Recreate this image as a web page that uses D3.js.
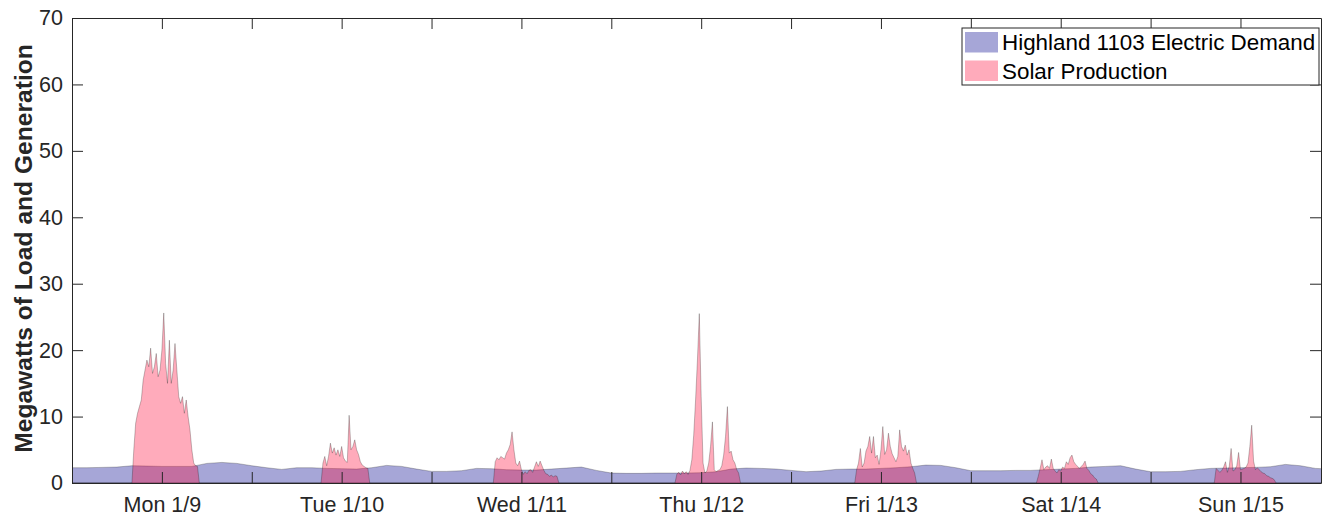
<!DOCTYPE html>
<html>
<head>
<meta charset="utf-8">
<script src="https://cdnjs.cloudflare.com/ajax/libs/d3/7.8.5/d3.min.js"></script>
<style>
    body { margin: 0; background: #fff; }
    svg { display: block; font-family: "Liberation Sans", Arial, sans-serif; }
    .axis-label { fill: #262626; font-size: 24.6px; font-weight: bold; }
    .demand-area { fill: rgb(0,0,139); fill-opacity: 0.35; stroke: #000; stroke-opacity: 0.3; stroke-width: 0.8; }
    .solar-area { fill: rgb(255,0,50); fill-opacity: 0.33; stroke: #000; stroke-opacity: 0.3; stroke-width: 0.8; }
    .legend-swatch { stroke: none; }
    .legend-box { fill: #fff; stroke: #262626; stroke-width: 1; }
    .legend-text { fill: #000; font-size: 22.4px; }
</style>
</head>
<body>
<div id="chart"></div>
<script>
// x tick labels (at noon of each day)
var dayLabels = ["Mon 1/9", "Tue 1/10", "Wed 1/11", "Thu 1/12", "Fri 1/13", "Sat 1/14", "Sun 1/15"]
var yTicks = [0, 10, 20, 30, 40, 50, 60, 70]
var seriesNames = ["Highland 1103 Electric Demand", "Solar Production"]

// demand, MW, every 2 hours from Mon 1/9 00:00
var demandMW = [
    2.3, 2.3, 2.35, 2.4, 2.6, 2.55, 2.5, 2.5, 2.5, 2.95, 3.1, 2.95,
    2.6, 2.3, 2.05, 2.3, 2.3, 2.2, 2.15, 2.1, 2.3, 2.65, 2.5, 2.1,
    1.75, 1.75, 1.85, 2.2, 2.15, 2.0, 1.95, 1.95, 2.1, 2.25, 2.4, 1.9,
    1.5, 1.45, 1.45, 1.5, 1.5, 1.5, 1.55, 1.7, 2.1, 2.25, 2.2, 2.1,
    1.9, 1.7, 1.8, 2.05, 2.1, 2.1, 2.2, 2.3, 2.45, 2.7, 2.65, 2.3,
    1.85, 1.85, 1.85, 1.9, 1.9, 2.0, 2.1, 2.2, 2.4, 2.5, 2.6, 2.1,
    1.7, 1.7, 1.75, 2.0, 2.2, 2.25, 2.3, 2.35, 2.45, 2.8, 2.6, 2.2,
    2.1
]

// solar, MW, every 15 minutes from the start hour of each day
var solarStartHour = [8.0, 9.25, 8.25, 8.5, 8.5, 8.75, 8.5]
var solarMon = [0, 5, 9, 10.5, 11.5, 12.5, 15.5, 17, 18.5, 17.5, 20.3, 16.5, 17.5, 19.5, 16, 17, 20, 25.6, 18, 15,
    21.5, 15, 17, 21, 17, 13, 12, 13, 10.5, 12.5, 10, 8, 5, 3, 2.6, 2.5, 0]
var solarTue = [0, 3.0, 4.0, 2.6, 4.0, 6.0, 4.5, 5.3, 4.2, 5.0, 4.0, 5.5, 3.8, 3.3, 3.1, 10.2, 5.0, 5.5, 6.5, 5.0,
    4.3, 3.2, 2.7, 2.5, 2.3, 2.2, 0]
var solarWed = [0, 3.2, 3.8, 3.5, 4.0, 3.8, 3.6, 4.5, 5.0, 5.8, 7.7, 5.0, 3.0, 2.6, 3.3, 2.0, 1.3, 1.7, 1.4, 1.9,
    2.0, 1.6, 2.4, 3.2, 2.5, 3.3, 2.6, 1.9, 1.4, 1.3, 1.0, 1.2, 0.9, 1.1, 1.0, 0]
var solarThu = [0, 1.3, 1.6, 1.2, 1.8, 1.4, 1.7, 1.3, 1.9, 3.5, 7.2, 12.5, 18.5, 25.5, 13, 3.0, 1.5, 1.8, 3.0, 5.5,
    9.2, 2.0, 1.7, 1.9, 2.0, 2.6, 4.2, 7.0, 11.5, 4.5, 4.8, 3.5, 3.0, 2.0, 1.5, 0]
var solarFri = [0, 2.0, 3.0, 5.2, 2.4, 3.0, 4.8, 5.5, 7.0, 4.5, 7.0, 3.8, 4.2, 2.8, 5.0, 8.5, 4.3, 5.0, 7.5, 5.5,
    4.4, 3.8, 3.2, 4.0, 8.0, 5.5, 4.8, 5.7, 4.2, 5.0, 3.0, 2.2, 1.5, 0]
var solarSat = [0, 1.0, 2.2, 3.5, 2.0, 2.4, 2.6, 2.2, 3.6, 2.2, 1.8, 1.5, 2.0, 1.8, 2.4, 2.2, 3.2, 2.8, 3.8, 4.2,
    3.2, 2.8, 2.5, 2.2, 2.5, 2.8, 3.3, 2.2, 1.9, 1.4, 1.2, 0.8, 0.6, 0]
var solarSun = [0, 2.2, 1.9, 1.6, 1.9, 2.4, 3.2, 1.6, 2.5, 5.2, 1.8, 2.0, 2.6, 4.6, 2.0, 2.1, 2.2, 2.4, 3.0, 5.5,
    8.7, 3.3, 2.0, 2.3, 2.0, 1.7, 1.5, 1.4, 1.1, 1.0, 0.8, 0.7, 0.5, 0]

var margin = {
    bottom: 34,
    left: 72,
    right: 1,
    top: 18
}

var svgWidth = 1322,
    svgHeight = 517

var width = svgWidth - margin.left - margin.right,
    height = svgHeight - margin.top - margin.bottom

var tStart = new Date(2017, 0, 9, 0, 0),
    tEnd = new Date(2017, 0, 15, 22, 45)

var demand = demandMW.map(function(v, i){
    return {t: new Date(2017, 0, 9, i * 2), v: v}
})

var solar = [{t: tStart, v: 0}]
var solarDays = [solarMon, solarTue, solarWed, solarThu, solarFri, solarSat, solarSun]
solarDays.forEach(function(vals, d){
    vals.forEach(function(v, i){
        solar.push({t: new Date(2017, 0, 9 + d, 0, Math.round((solarStartHour[d] + i * 0.25) * 60)), v: v})
    })
})
solar.push({t: tEnd, v: 0})

var svg = d3.select("#chart")
    .append("svg")
        .attr("width", svgWidth)
        .attr("height", svgHeight)
    .append("g")
        .attr("transform", "translate(" + margin.left + "," + margin.top + ")")

var x = d3.scaleTime()
    .domain([tStart, tEnd])
    .range([0, width])

var y = d3.scaleLinear()
    .domain([0, 70])
    .range([height, 0])

svg.append("clipPath")
    .attr("id", "plot-clip")
    .append("rect")
        .attr("width", width)
        .attr("height", height)

var area = d3.area()
    .x(d => x(d.t))
    .y0(y(0))
    .y1(d => y(d.v))

var plot = svg.append("g")
    .attr("clip-path", "url(#plot-clip)")

plot.append("path")
    .datum(demand)
    .attr("class", "demand-area")
    .attr("d", area)

plot.append("path")
    .datum(solar)
    .attr("class", "solar-area")
    .attr("d", area)

// ticks every 12 hours, labels only at noon
var xTickValues = d3.range(0, 14).map(i => new Date(2017, 0, 9, i * 12))
var tickLen = 11

function styleAxis(g){
    g.attr("font-family", null)
        .attr("font-size", 21.5)
        .attr("color", "#262626")
    g.selectAll(".tick text").attr("fill", "#262626")
    g.select(".domain").attr("stroke-width", 1)
}

svg.append("g")
    .attr("transform", "translate(0," + height + ")")
    .call(d3.axisBottom(x)
        .tickValues(xTickValues)
        .tickSizeInner(-tickLen)
        .tickSizeOuter(0)
        .tickPadding(14)
        .tickFormat((d, i) => i % 2 ? dayLabels[(i - 1) / 2] : ""))
    .call(styleAxis)

svg.append("g")
    .call(d3.axisTop(x)
        .tickValues(xTickValues)
        .tickSizeInner(-tickLen)
        .tickSizeOuter(0)
        .tickFormat(""))
    .call(styleAxis)

svg.append("g")
    .call(d3.axisLeft(y)
        .tickValues(yTicks)
        .tickSizeInner(-tickLen)
        .tickSizeOuter(0)
        .tickPadding(9))
    .call(styleAxis)

svg.append("g")
    .attr("transform", "translate(" + width + ",0)")
    .call(d3.axisRight(y)
        .tickValues(yTicks)
        .tickSizeInner(-tickLen)
        .tickSizeOuter(0)
        .tickFormat(""))
    .call(styleAxis)

svg.append("text")
    .attr("class", "axis-label")
    .attr("transform", "rotate(-90)")
    .attr("x", -height / 2 + 2)
    .attr("y", -margin.left + 32)
    .attr("text-anchor", "middle")
    .text("Megawatts of Load and Generation")

// legend
var legend = svg.append("g")
    .attr("transform", "translate(" + (width - 359) + ",10)")

legend.append("rect")
    .attr("class", "legend-box")
    .attr("width", 357)
    .attr("height", 57)

var legClasses = ["demand-area", "solar-area"]
seriesNames.forEach(function(name, i){
    var row = legend.append("g")
        .attr("transform", "translate(3," + (4 + i * 28.5) + ")")
    row.append("rect")
        .attr("class", legClasses[i] + " legend-swatch")
        .attr("width", 33)
        .attr("height", 20.5)
    row.append("text")
        .attr("class", "legend-text")
        .attr("x", 37)
        .attr("y", 10.5)
        .attr("dy", "0.35em")
        .text(name)
})
</script>
</body>
</html>
